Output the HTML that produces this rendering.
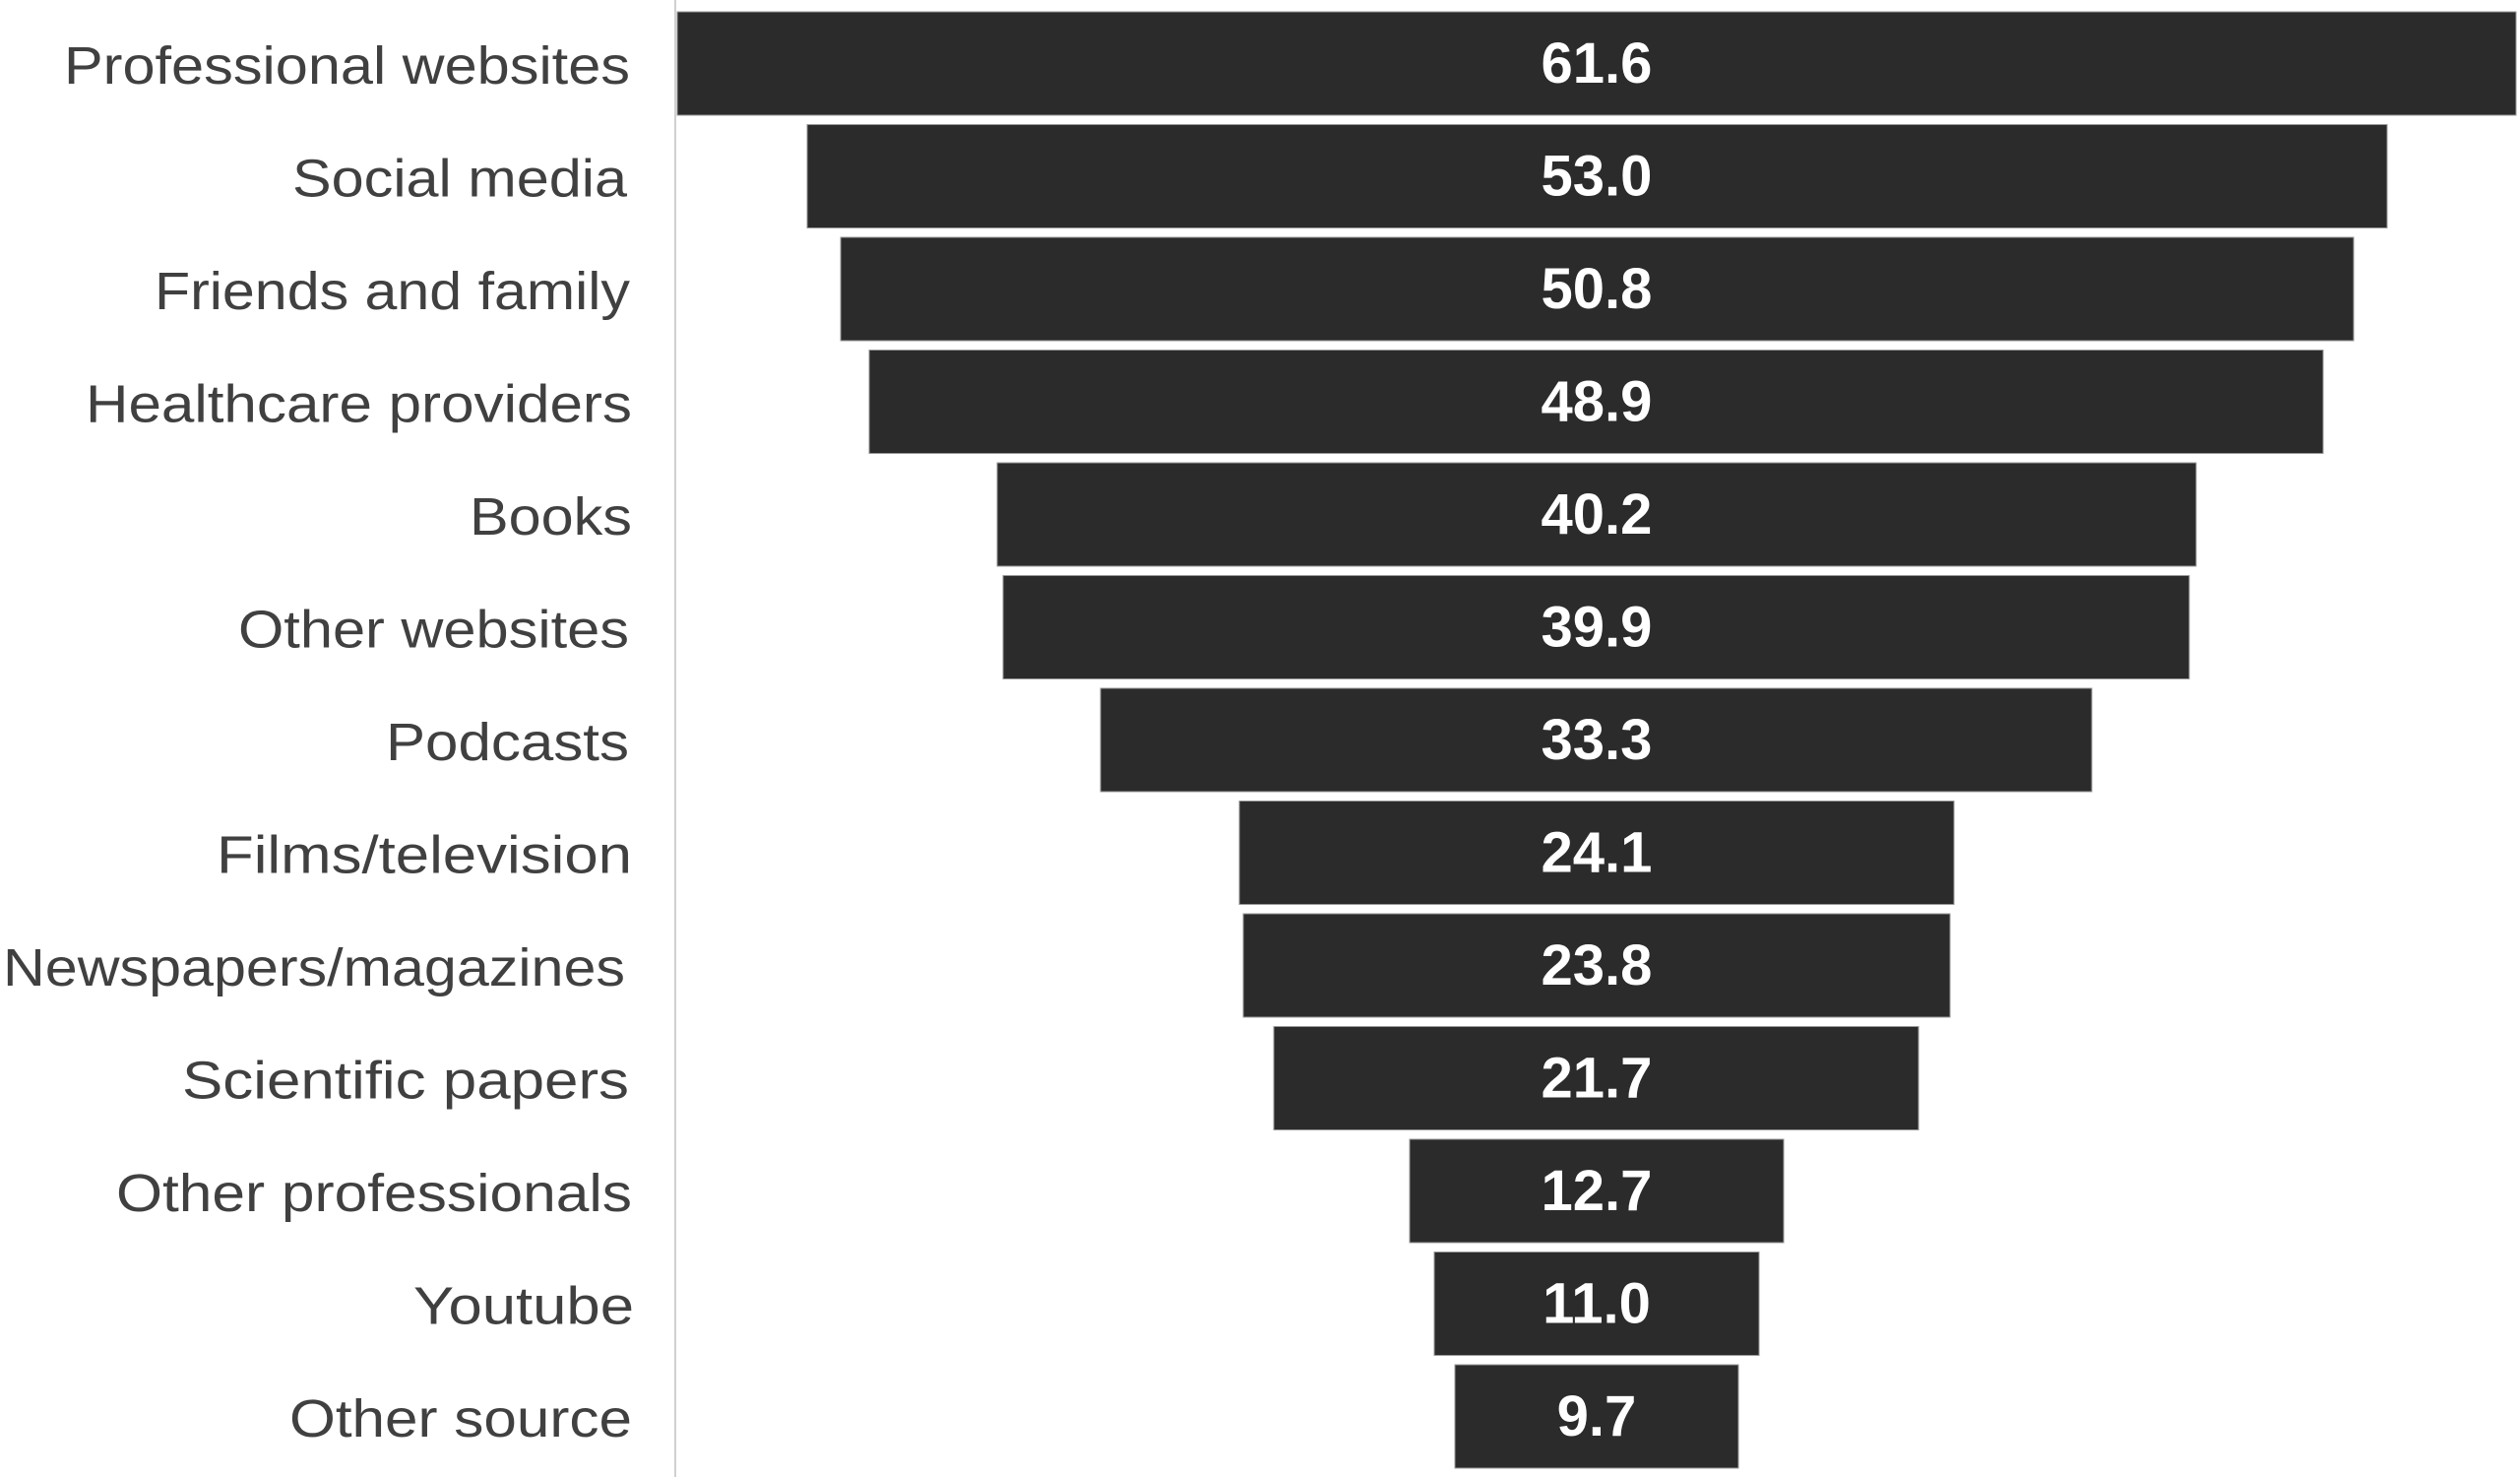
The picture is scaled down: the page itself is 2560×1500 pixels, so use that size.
<!DOCTYPE html>
<html><head><meta charset="utf-8"><style>
html,body{margin:0;padding:0;background:#fff;}
svg{display:block;}
</style></head><body>
<svg width="2560" height="1500" viewBox="0 0 2560 1500" xmlns="http://www.w3.org/2000/svg">
<rect width="2560" height="1500" fill="#fff"/>
<line x1="686" y1="0" x2="686" y2="1500" stroke="#d0d0d0" stroke-width="2"/>
<g font-family="Liberation Sans, sans-serif">
<g fill="#2b2b2b" stroke="#9a9a9a" stroke-width="1">
<rect x="688" y="12" width="1868" height="105"/>
<rect x="820" y="126.5" width="1605" height="105"/>
<rect x="854" y="241" width="1537" height="105"/>
<rect x="883" y="355.5" width="1477" height="105"/>
<rect x="1013" y="470" width="1218" height="105"/>
<rect x="1019" y="584.5" width="1205" height="105"/>
<rect x="1118" y="699" width="1007" height="105"/>
<rect x="1259" y="813.5" width="726" height="105"/>
<rect x="1263" y="928" width="718" height="105"/>
<rect x="1294" y="1042.5" width="655" height="105"/>
<rect x="1432" y="1157" width="380" height="105"/>
<rect x="1457" y="1271.5" width="330" height="105"/>
<rect x="1478" y="1386" width="288" height="105"/>
</g>
<g fill="#fff" font-weight="bold" font-size="58" text-anchor="middle">
<text x="1622" y="84">61.6</text>
<text x="1622" y="198.5">53.0</text>
<text x="1622" y="313">50.8</text>
<text x="1622" y="427.5">48.9</text>
<text x="1622" y="542">40.2</text>
<text x="1622" y="656.5">39.9</text>
<text x="1622" y="771">33.3</text>
<text x="1622" y="885.5">24.1</text>
<text x="1622" y="1000">23.8</text>
<text x="1622" y="1114.5">21.7</text>
<text x="1622" y="1229">12.7</text>
<text x="1622" y="1343.5">11.0</text>
<text x="1622" y="1458">9.7</text>
</g>
<g fill="#404040" font-size="54">
<text x="65" y="85" textLength="575" lengthAdjust="spacingAndGlyphs">Professional websites</text>
<text x="297" y="199.5" textLength="340" lengthAdjust="spacingAndGlyphs">Social media</text>
<text x="157" y="314" textLength="483" lengthAdjust="spacingAndGlyphs">Friends and family</text>
<text x="87" y="428.5" textLength="555" lengthAdjust="spacingAndGlyphs">Healthcare providers</text>
<text x="477" y="543" textLength="165" lengthAdjust="spacingAndGlyphs">Books</text>
<text x="242" y="657.5" textLength="397" lengthAdjust="spacingAndGlyphs">Other websites</text>
<text x="392" y="772" textLength="247" lengthAdjust="spacingAndGlyphs">Podcasts</text>
<text x="220" y="886.5" textLength="422" lengthAdjust="spacingAndGlyphs">Films/television</text>
<text x="3" y="1001" textLength="632" lengthAdjust="spacingAndGlyphs">Newspapers/magazines</text>
<text x="185" y="1115.5" textLength="454" lengthAdjust="spacingAndGlyphs">Scientific  papers</text>
<text x="118" y="1230" textLength="524" lengthAdjust="spacingAndGlyphs">Other professionals</text>
<text x="420" y="1344.5" textLength="224" lengthAdjust="spacingAndGlyphs">Youtube</text>
<text x="294" y="1459" textLength="348" lengthAdjust="spacingAndGlyphs">Other source</text>
</g>
</g>
</svg>
</body></html>
